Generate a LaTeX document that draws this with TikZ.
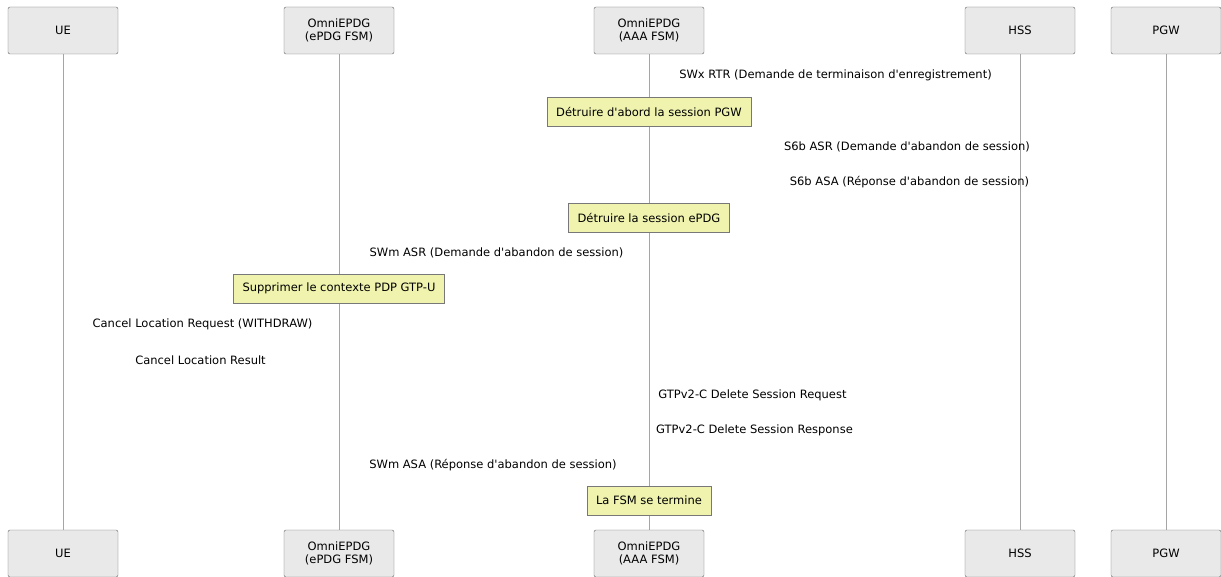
\documentclass[tikz,border=0pt]{standalone}
\usepackage{fontspec}
\setmainfont{DejaVu Sans}
\definecolor{partfill}{RGB}{233,233,233}
\definecolor{partline}{RGB}{100,100,100}
\definecolor{notefill}{RGB}{239,243,174}
\definecolor{noteline}{RGB}{120,120,120}
\definecolor{lifegray}{RGB}{165,165,165}
\newcommand{\seqfont}{\fontsize{11.5}{13}\selectfont}
\newcommand{\ap}{\textquotesingle}
\tikzset{
    partbox/.style={draw=partline, fill=partfill, rounded corners=2pt,
        minimum width=110pt, minimum height=47pt, inner sep=0pt,
        align=center, font=\seqfont},
    notebox/.style={draw=noteline, fill=notefill, minimum height=29pt,
        inner xsep=9pt, inner ysep=0pt, font=\seqfont},
    msglabel/.style={inner sep=0pt, font=\seqfont},
    lifeline/.style={draw=lifegray, line width=0.9pt}
}
\begin{document}
\begin{tikzpicture}[x=1pt, y=-1pt]
    \useasboundingbox (0,0) rectangle (1221,577);
    \foreach \pname/\px/\ptext in {ue/63/UE, epdg/339/{OmniEPDG\\(ePDG FSM)},
        aaa/649/{OmniEPDG\\(AAA FSM)}, hss/1020/HSS, pgw/1166/PGW}
    {
        \node[partbox] (\pname) at (\px,30.5) {\ptext};
        \node[partbox] (\pname-bot) at (\px,553.5) {\ptext};
        \draw[lifeline] (\pname.south) -- (\pname-bot.north);
    }
    \node[msglabel] (swxrtr) at (835.5,75) {SWx RTR (Demande de terminaison d\ap enregistrement)};
    \node[notebox] (pgwnote) at (649,112) {Détruire d\ap abord la session PGW};
    \node[msglabel] (s6basr) at (907,147) {S6b ASR (Demande d\ap abandon de session)};
    \node[msglabel] (s6basa) at (909.5,182) {S6b ASA (Réponse d\ap abandon de session)};
    \node[notebox] (epdgnote) at (649,217.5) {Détruire la session ePDG};
    \node[msglabel] (swmasr) at (496.5,253) {SWm ASR (Demande d\ap abandon de session)};
    \node[notebox] (gtpunote) at (339,288.5) {Supprimer le contexte PDP GTP-U};
    \node[msglabel] (clreq) at (202.5,324) {Cancel Location Request (WITHDRAW)};
    \node[msglabel] (clres) at (200.5,360) {Cancel Location Result};
    \node[msglabel] (dsreq) at (752.5,395) {GTPv2-C Delete Session Request};
    \node[msglabel] (dsresp) at (754.5,430) {GTPv2-C Delete Session Response};
    \node[msglabel] (swmasa) at (493,465) {SWm ASA (Réponse d\ap abandon de session)};
    \node[notebox] (endnote) at (649,500.5) {La FSM se termine};
\end{tikzpicture}
\end{document}
